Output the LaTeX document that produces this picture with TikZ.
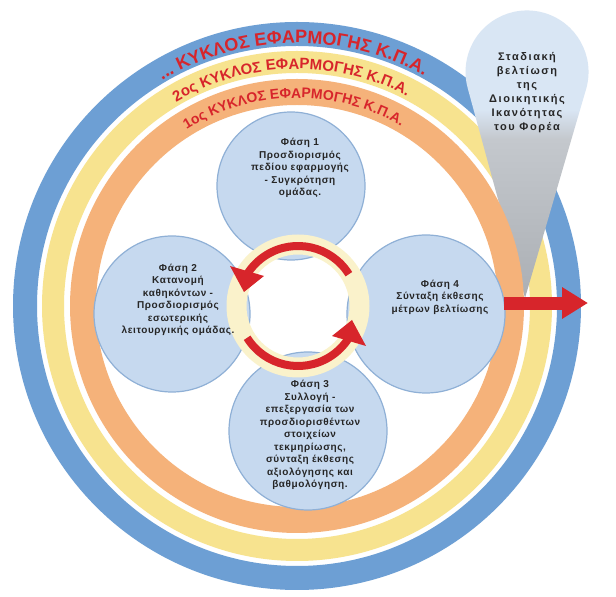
\documentclass[tikz,border=0pt]{standalone}
\usepackage{fontspec}
\setmainfont{Liberation Sans}
\newfontfamily\phasefont[LetterSpace=6]{Liberation Sans}
\newfontfamily\conefont[LetterSpace=14]{Liberation Sans}
\usetikzlibrary{decorations.text,arrows.meta}
\definecolor{ringblue}{HTML}{6D9FD4}
\definecolor{ringyellow}{HTML}{F7E38F}
\definecolor{ringorange}{HTML}{F5B27A}
\definecolor{phasefill}{HTML}{C6D9EF}
\definecolor{phaseline}{HTML}{8FB0D6}
\definecolor{kred}{HTML}{D7252B}
\definecolor{lightring}{HTML}{FAF2CB}
\definecolor{conelight}{HTML}{D9E6F4}
\definecolor{conegrayA}{HTML}{C4C8CD}
\definecolor{conegrayB}{HTML}{ABAFB4}
\pgfdeclareverticalshading{coneshade}{100bp}{color(0bp)=(conegrayB); color(25bp)=(conegrayB); color(52bp)=(conegrayA); color(57bp)=(conelight); color(100bp)=(conelight)}
\tikzset{
  phase/.style={circle,fill=phasefill,draw=phaseline,line width=1.2pt,inner sep=0pt,outer sep=0pt},
  ptext/.style={align=center,font=\phasefont\bfseries\fontsize{10}{12.5}\selectfont,text=black!85},
  ctext/.style={align=center,font=\conefont\bfseries\fontsize{11}{14}\selectfont,text=black!85},
  ringtext/.style={decorate,decoration={text along path,text align=center,text color=kred,text={#1}}}
}
\begin{document}
\begin{tikzpicture}[x=1pt,y=1pt]
\useasboundingbox (0,0) rectangle (616,597);
\fill[white] (0,0) rectangle (616,597);
\coordinate (C) at (297,291);
\coordinate (L) at (298,291);
% rings
\fill[ringblue,even odd rule] (C) circle (284pt) circle (260pt);
\fill[ringyellow,even odd rule] (C) circle (255pt) circle (233pt);
% cone
\path[shading=coneshade] (525,299) -- (586.2,508.3) arc[start angle=-15.8,end angle=195.8,radius=61.5pt] -- cycle;
\fill[ringorange,even odd rule] (C) circle (227pt) circle (201pt);
% ring texts
\path[ringtext={|\bfseries\fontsize{18}{18}\selectfont|... ΚΥΚΛΟΣ ΕΦΑΡΜΟΓΗΣ Κ.Π.Α.}] (C) ++(131:263pt) arc[start angle=131,end angle=51,radius=263pt];
\path[ringtext={|\bfseries\fontsize{15}{15}\selectfont|2ος ΚΥΚΛΟΣ ΕΦΑΡΜΟΓΗΣ Κ.Π.Α.}] (C) ++(131:237pt) arc[start angle=131,end angle=52,radius=237pt];
\path[ringtext={|\bfseries\fontsize{14}{14}\selectfont|1ος ΚΥΚΛΟΣ ΕΦΑΡΜΟΓΗΣ Κ.Π.Α.}] (C) ++(131:208pt) arc[start angle=131,end angle=51,radius=208pt];
% phase circles
\node[phase,minimum size=148pt] (p1) at (291,411) {};
\node[phase,minimum size=156pt] (p2) at (172,283) {};
\node[phase,minimum size=158pt] (p3) at (308,166) {};
\node[phase,minimum size=158pt] (p4) at (426,283) {};
% inner light ring
\fill[lightring,even odd rule] (L) circle (71.5pt) circle (51.5pt);
% circular red arrows
\draw[kred,line width=8pt] (L) ++(32:60pt) arc[start angle=32,end angle=148,radius=60pt];
\fill[kred] (230,331) -- (264,321) -- (244,305) -- cycle;
\draw[kred,line width=8pt] (L) ++(212:60pt) arc[start angle=212,end angle=328,radius=60pt];
\fill[kred] (366,251) -- (332,261) -- (352,277) -- cycle;
% outgoing arrow
\coordinate (arrowend) at (588,294);
\draw[kred,line width=13pt,-{Triangle[length=26pt,width=30pt]}] (p4.8) -- (p4.8 -| arrowend);
% texts
\node[ptext] (t1) at (300,429) {Φάση 1\\Προσδιορισμός\\πεδίου εφαρμογής\\- Συγκρότηση\\ομάδας.};
\node[ptext] (t2) at (178,297) {Φάση 2\\Κατανομή\\καθηκόντων -\\Προσδιορισμός\\εσωτερικής\\λειτουργικής ομάδας.};
\node[ptext] (t3) at (310,162) {Φάση 3\\Συλλογή -\\επεξεργασία των\\προσδιορισθέντων\\στοιχείων\\τεκμηρίωσης,\\σύνταξη έκθεσης\\αξιολόγησης και\\βαθμολόγηση.};
\node[ptext] (t4) at (440,300) {Φάση 4\\Σύνταξη έκθεσης\\μέτρων βελτίωσης};
\node[ctext] (t5) at (527,504) {Σταδιακή\\βελτίωση\\της\\Διοικητικής\\Ικανότητας\\του Φορέα};
\end{tikzpicture}
\end{document}
